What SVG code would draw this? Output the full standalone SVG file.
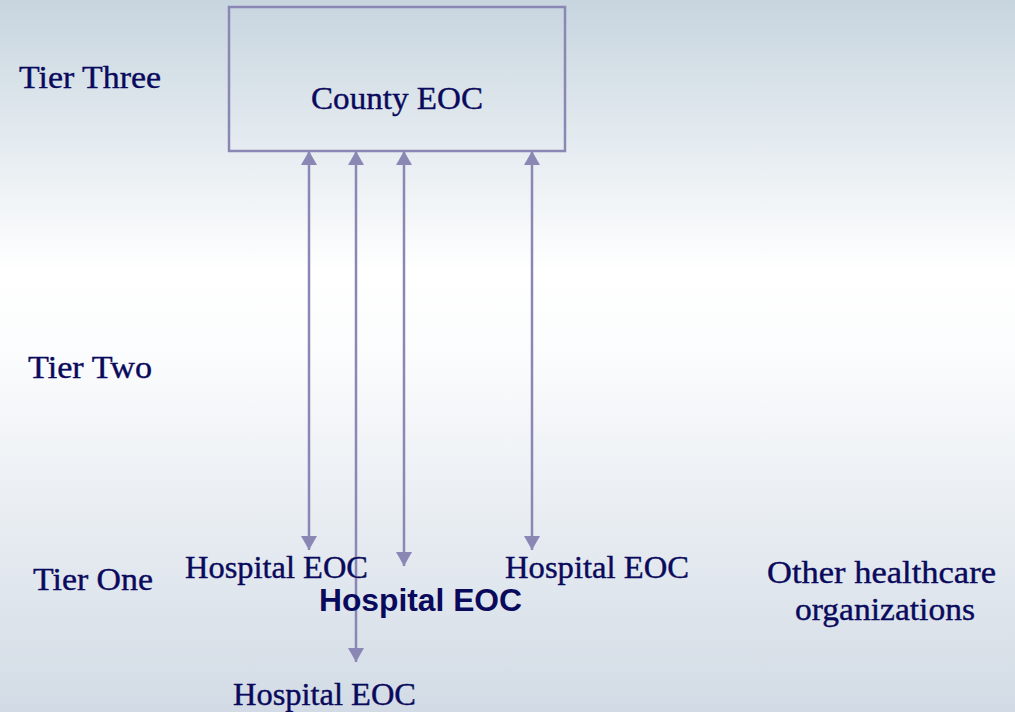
<svg xmlns="http://www.w3.org/2000/svg" width="1015" height="712" viewBox="0 0 1015 712">
<defs>
<linearGradient id="bg" x1="0" y1="0" x2="0" y2="1">
<stop offset="0" stop-color="#c7d5df"/>
<stop offset="0.38" stop-color="#ffffff"/>
<stop offset="0.5" stop-color="#fbfcfd"/>
<stop offset="1" stop-color="#d2dbe5"/>
</linearGradient>
<marker id="ah" viewBox="0 0 14 16" refX="14" refY="8" markerWidth="14" markerHeight="16" markerUnits="userSpaceOnUse" orient="auto-start-reverse">
<path d="M0,0 L14,8 L0,16 Z" fill="#8a87b5"/>
</marker>
<style>
.t{font-family:"Liberation Serif","Times New Roman",serif;font-size:32.5px;fill:#0a0a5c;stroke:#0a0a5c;stroke-width:0.4}
.b{font-family:"Liberation Sans",Arial,sans-serif;font-size:32px;font-weight:bold;fill:#0a0a5c}
.c{stroke:#8a87b5;stroke-width:2.5;fill:none}
</style>
</defs>
<rect width="1015" height="712" fill="url(#bg)"/>
<g id="tiers">
<text class="t" x="19" y="88" textLength="142" lengthAdjust="spacingAndGlyphs">Tier Three</text>
<text class="t" x="28" y="378" textLength="124" lengthAdjust="spacingAndGlyphs">Tier Two</text>
<text class="t" x="33" y="590" textLength="120" lengthAdjust="spacingAndGlyphs">Tier One</text>
</g>
<g id="county">
<rect x="229" y="7" width="336" height="144" fill="none" stroke="#8a87b5" stroke-width="2.5"/>
<text class="t" x="311" y="109" textLength="172" lengthAdjust="spacingAndGlyphs">County EOC</text>
</g>
<g id="connectors">
<line class="c" x1="309" y1="151" x2="309" y2="550" marker-start="url(#ah)" marker-end="url(#ah)"/>
<line class="c" x1="356" y1="151" x2="356" y2="662" marker-start="url(#ah)" marker-end="url(#ah)"/>
<line class="c" x1="404" y1="151" x2="404" y2="566" marker-start="url(#ah)" marker-end="url(#ah)"/>
<line class="c" x1="532" y1="151" x2="532" y2="550" marker-start="url(#ah)" marker-end="url(#ah)"/>
</g>
<g id="hospital1"><text class="t" x="185" y="578" textLength="183" lengthAdjust="spacingAndGlyphs">Hospital EOC</text></g>
<g id="hospital2"><text class="b" x="319" y="611" textLength="203" lengthAdjust="spacingAndGlyphs">Hospital EOC</text></g>
<g id="hospital3"><text class="t" x="505" y="578" textLength="184" lengthAdjust="spacingAndGlyphs">Hospital EOC</text></g>
<g id="hospital4"><text class="t" x="233" y="705" textLength="183" lengthAdjust="spacingAndGlyphs">Hospital EOC</text></g>
<g id="other">
<text class="t" x="767" y="583" textLength="229" lengthAdjust="spacingAndGlyphs">Other healthcare</text>
<text class="t" x="795" y="620" textLength="180" lengthAdjust="spacingAndGlyphs">organizations</text>
</g>
</svg>
